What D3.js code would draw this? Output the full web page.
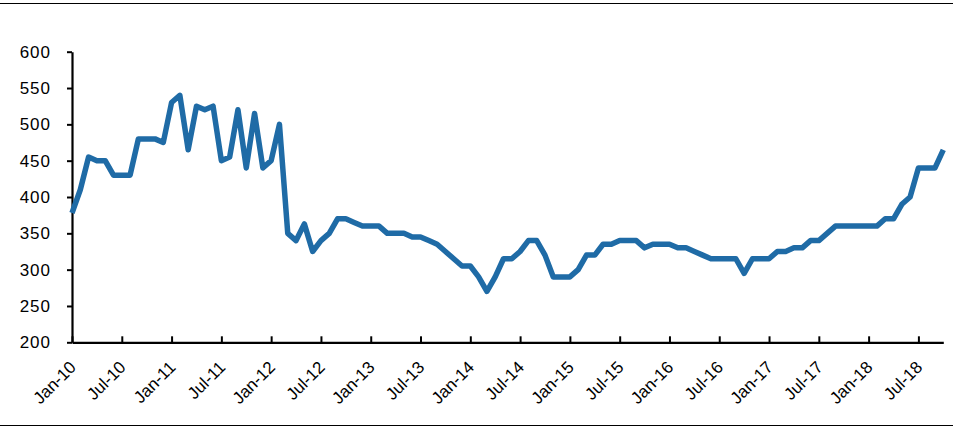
<!DOCTYPE html>
<html>
<head>
<meta charset="utf-8">
<script src="https://cdn.jsdelivr.net/npm/d3@7"></script>
<style>
  html, body { margin: 0; padding: 0; background: #fff; }
  svg { display: block; font-family: Arial, "Liberation Sans", sans-serif; }
</style>
</head>
<body>
<svg id="chart" width="953" height="429"></svg>
<script>
// Monthly values, Jan-10 .. Oct-18
const startYear = 2010;
const values = [
  378, 410, 455, 450, 450, 430, 430, 430, 480, 480, 480, 475, // 2010
  530, 540, 465, 525, 520, 525, 450, 455, 520, 440, 515, 440, // 2011
  450, 500, 350, 340, 363, 325, 340, 350, 370, 370, 365, 360, // 2012
  360, 360, 350, 350, 350, 345, 345, 340, 335, 325, 315, 305, // 2013
  305, 290, 270, 290, 315, 315, 325, 340, 340, 320, 290, 290, // 2014
  290, 300, 320, 320, 335, 335, 340, 340, 340, 330, 335, 335, // 2015
  335, 330, 330, 325, 320, 315, 315, 315, 315, 295, 315, 315, // 2016
  315, 325, 325, 330, 330, 340, 340, 350, 360, 360, 360, 360, // 2017
  360, 360, 370, 370, 390, 400, 440, 440, 440, 465            // 2018
];
const tickIndexes = [0, 6, 12, 18, 24, 30, 36, 42, 48, 54, 60, 66, 72, 78, 84, 90, 96, 102];
const tickLabels = ["Jan-10","Jul-10","Jan-11","Jul-11","Jan-12","Jul-12","Jan-13","Jul-13","Jan-14","Jul-14",
                    "Jan-15","Jul-15","Jan-16","Jul-16","Jan-17","Jul-17","Jan-18","Jul-18"];
const yTicks = [200, 250, 300, 350, 400, 450, 500, 550, 600];

const svg = d3.select("#chart");
const W = 953, H = 429;

const x = d3.scaleLinear().domain([0, values.length - 1]).range([72, 943.3]);
const y = d3.scaleLinear().domain([200, 600]).range([342.3, 51.7]);

// frame lines top and bottom
svg.append("line").attr("x1", 0).attr("x2", W).attr("y1", 3.5).attr("y2", 3.5)
  .attr("stroke", "#000").attr("stroke-width", 1);
svg.append("line").attr("x1", 0).attr("x2", W).attr("y1", 425.5).attr("y2", 425.5)
  .attr("stroke", "#000").attr("stroke-width", 1);

// Y axis
const yAxis = d3.axisLeft(y).tickValues(yTicks).tickSize(5).tickSizeOuter(0).tickPadding(16);
const gy = svg.append("g").attr("transform", "translate(72,0)").call(yAxis);
gy.select(".domain").attr("stroke", "#000").attr("stroke-width", 2.2);
gy.selectAll(".tick line").attr("stroke", "#000").attr("stroke-width", 2);
gy.selectAll(".tick text").attr("fill", "#000").style("font-size", "17px")
  .style("letter-spacing", "1px");

// X axis
const xAxis = d3.axisBottom(x).tickValues(tickIndexes).tickSizeInner(-6).tickSizeOuter(0)
  .tickFormat((d, i) => tickLabels[i]);
const gx = svg.append("g").attr("transform", "translate(0," + y(200) + ")").call(xAxis);
gx.select(".domain").attr("stroke", "#000").attr("stroke-width", 2.2);
gx.selectAll(".tick line").attr("stroke", "#000").attr("stroke-width", 2);
gx.selectAll(".tick text")
  .attr("fill", "#000")
  .style("font-size", "17px")
  .attr("text-anchor", "end")
  .attr("x", 0).attr("y", 0).attr("dy", 0)
  .attr("transform", "translate(4.5,26) rotate(-45)");

// Line
const line = d3.line().x((d, i) => x(i)).y(d => y(d));
svg.append("path").datum(values)
  .attr("fill", "none")
  .attr("stroke", "#1f6ba6")
  .attr("stroke-width", 5.5)
  .attr("stroke-linejoin", "round")
  .attr("stroke-linecap", "butt")
  .attr("d", line);
</script>
</body>
</html>
